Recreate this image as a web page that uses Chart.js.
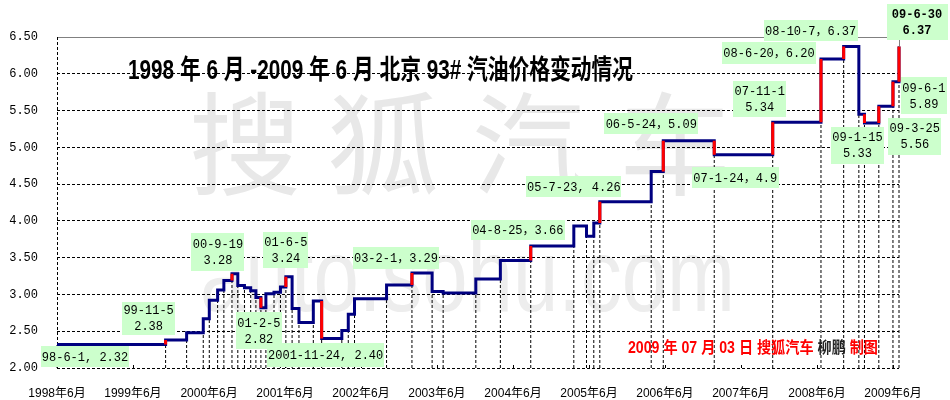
<!DOCTYPE html>
<html>
<head>
<meta charset="utf-8">
<script src="https://cdn.jsdelivr.net/npm/chart.js"></script>
<style>
  body { margin: 0; background: #fff; }
  #wrap { width: 950px; height: 400px; }
</style>
</head>
<body>
<div id="wrap"><canvas id="myChart" width="950" height="400"></canvas></div>
<script>
// price change dates and the 93# price from that day on (yuan / litre)
const changeDates = [
  '1998-06-01', '1999-11-05', '2000-02-14', '2000-05-04', '2000-06-02', '2000-07-12', '2000-08-11', '2000-09-19',
  '2000-10-17', '2000-11-18', '2000-12-18', '2001-01-12', '2001-02-05', '2001-03-01', '2001-04-09', '2001-05-10',
  '2001-06-05', '2001-07-05', '2001-08-07', '2001-10-15', '2001-11-24', '2002-03-01', '2002-04-01', '2002-05-01',
  '2002-10-02', '2003-02-01', '2003-05-09', '2003-07-01', '2003-12-05', '2004-04-01', '2004-08-25', '2005-03-20',
  '2005-05-20', '2005-06-24', '2005-07-23', '2006-03-27', '2006-05-24', '2007-01-24', '2007-11-01', '2008-06-20',
  '2008-10-07', '2008-12-19', '2009-01-15', '2009-03-25', '2009-06-01', '2009-06-30'
];
const prices = [
  2.32, 2.38, 2.48, 2.67, 2.92, 3.06, 3.19, 3.28,
  3.12, 3.09, 3.05, 2.96, 2.82, 3.01, 3.03, 3.10,
  3.24, 2.81, 2.62, 2.91, 2.40, 2.51, 2.73, 2.94,
  3.13, 3.29, 3.04, 3.02, 3.21, 3.46, 3.66, 3.93,
  3.79, 3.97, 4.26, 4.67, 5.09, 4.90, 5.34, 6.20,
  6.37, 5.45, 5.33, 5.56, 5.89, 6.37
];

// labelled changes (index into changeDates) and their note text
const noteIndex = [0, 1, 7, 12, 16, 20, 25, 30, 34, 36, 37, 38, 39, 40, 42, 43, 44, 45];
const noteText = [
  '98-6-1, 2.32', '99-11-5\n2.38', '00-9-19\n3.28', '01-2-5\n2.82', '01-6-5\n3.24',
  '2001-11-24, 2.40', '03-2-1，3.29', '04-8-25，3.66', '05-7-23, 4.26', '06-5-24，5.09',
  '07-1-24，4.9', '07-11-1\n5.34', '08-6-20，6.20', '08-10-7，6.37', '09-1-15\n5.33',
  '09-3-25\n5.56', '09-6-1\n5.89', '09-6-30\n6.37'
];

const tickDates = ['1998-06-01', '1999-06-01', '2000-06-01', '2001-06-01', '2002-06-01', '2003-06-01',
  '2004-06-01', '2005-06-01', '2006-06-01', '2007-06-01', '2008-06-01', '2009-06-01'];
const tickLabels = ['1998年6月', '1999年6月', '2000年6月', '2001年6月', '2002年6月', '2003年6月',
  '2004年6月', '2005年6月', '2006年6月', '2007年6月', '2008年6月', '2009年6月'];

const titleText = '1998 年 6 月 -2009 年 6 月 北京 93# 汽油价格变动情况';

// note boxes: offset of box centre from its point, box width, height (layout only)
const noteLayout = [
  [28, 12, 88, 21], [-17, -22, 53, 33], [-14, -22, 53, 38], [-2, 23, 46, 37], [0, -27, 45, 36],
  [4, 16, 117, 24], [-16, -15, 86, 22], [-13, -16, 94, 20], [-26, -15, 95, 21], [-12, -17, 94, 21],
  [21, 23, 87, 21], [-13, -23, 53, 36], [-52, -6, 94, 22], [-33, -16, 94, 21], [-7, 22, 53, 37],
  [36, 30, 53, 37], [31, 14, 46, 37], [18, -25, 61, 36]
];

const origin = Date.UTC(1998, 5, 1);
function toDay(s) {
  const p = s.split('-');
  return (Date.UTC(+p[0], +p[1] - 1, +p[2]) - origin) / 86400000;
}

const yMin = 2.0, yMax = 6.5;

const stepData = changeDates.map((d, i) => ({ x: toDay(d), y: prices[i] }));

const redData = [];
noteIndex.forEach(i => {
  if (i === 0) return;
  const x = toDay(changeDates[i]);
  redData.push({ x: x, y: prices[i - 1] }, { x: x, y: prices[i] }, { x: x, y: null });
});

const dropData = [];
changeDates.forEach((d, i) => {
  const x = toDay(d);
  dropData.push({ x: x, y: yMin }, { x: x, y: prices[i] }, { x: x, y: null });
});

const monoFont = '"Liberation Mono", "Noto Sans CJK SC", monospace';

function fitText(ctx, runs, font, left, y, width) {
  ctx.save();
  ctx.font = font;
  ctx.textAlign = 'left';
  ctx.textBaseline = 'middle';
  let total = 0;
  runs.forEach(r => { total += ctx.measureText(r.t).width; });
  ctx.translate(left, y);
  ctx.scale(width / total, 1);
  let x = 0;
  runs.forEach(r => {
    ctx.fillStyle = r.c;
    ctx.fillText(r.t, x, 0);
    x += ctx.measureText(r.t).width;
  });
  ctx.restore();
}

const decorPlugin = {
  id: 'decor',
  beforeDraw(chart) {
    const ctx = chart.ctx;
    ctx.save();
    // watermark
    ctx.fillStyle = '#e8e8e8';
    ctx.font = '112px "Noto Sans CJK SC"';
    ctx.textAlign = 'center';
    ctx.textBaseline = 'middle';
    [['搜', 245], ['狐', 383], ['汽', 528], ['车', 675]].forEach(c => ctx.fillText(c[0], c[1], 144));
    ctx.restore();
    ctx.save();
    ctx.fillStyle = '#ededed';
    ctx.font = '104px "Liberation Sans"';
    const w = ctx.measureText('auto.sohu.com').width;
    ctx.translate(200, 311);
    ctx.scale(535 / w, 1);
    ctx.textBaseline = 'alphabetic';
    ctx.fillText('auto.sohu.com', 0, 0);
    ctx.restore();
  },
  beforeDatasetsDraw(chart) {
    const ctx = chart.ctx;
    const a = chart.chartArea;
    const xs = chart.scales.x, ys = chart.scales.y;
    ctx.save();
    // top line
    ctx.strokeStyle = '#808080';
    ctx.lineWidth = 1;
    const top = Math.round(ys.getPixelForValue(yMax)) + 0.5;
    ctx.beginPath();
    ctx.moveTo(a.left, top);
    ctx.lineTo(a.right, top);
    ctx.stroke();
    // left axis, dashed
    ctx.strokeStyle = '#000';
    ctx.setLineDash([3, 2]);
    const lx = Math.round(a.left) + 0.5;
    ctx.beginPath();
    ctx.moveTo(lx, a.top);
    ctx.lineTo(lx, a.bottom);
    ctx.stroke();
    ctx.setLineDash([]);
    // little year ticks
    xs.ticks.forEach(t => {
      const x = Math.round(xs.getPixelForValue(t.value)) + 0.5;
      ctx.beginPath();
      ctx.moveTo(x, a.bottom);
      ctx.lineTo(x, a.bottom - 3);
      ctx.stroke();
    });
    ctx.restore();
  },
  afterDatasetsDraw(chart) {
    const ctx = chart.ctx;
    const font = 'bold 16px "Liberation Sans", "Noto Sans CJK SC"';
    fitText(ctx, [
      { t: '2009 年 07 月 03 日 搜狐汽车 ', c: '#ff0000' },
      { t: '柳鹏', c: '#222222' },
      { t: ' 制图', c: '#ff0000' }
    ], font, 628, 349, 250);
    fitText(ctx, [{ t: titleText, c: '#000000' }],
      'bold 27px "Liberation Sans", "Noto Sans CJK SC"', 128, 72, 505);
  },
  afterDraw(chart) {
    const ctx = chart.ctx;
    const xs = chart.scales.x, ys = chart.scales.y;
    noteIndex.forEach((idx, n) => {
      const px = xs.getPixelForValue(toDay(changeDates[idx]));
      const py = ys.getPixelForValue(prices[idx]);
      const [dx, dy, w, h] = noteLayout[n];
      const cx = px + dx, cy = py + dy;
      const last = n === noteIndex.length - 1;
      ctx.save();
      if (last) {
        ctx.strokeStyle = '#808080';
        ctx.lineWidth = 1;
        ctx.beginPath();
        ctx.moveTo(Math.round(px) + 0.5, cy + h / 2);
        ctx.lineTo(Math.round(px) + 0.5, py);
        ctx.stroke();
      }
      ctx.fillStyle = '#ccffcc';
      ctx.fillRect(Math.round(cx - w / 2), Math.round(cy - h / 2), w, h);
      ctx.fillStyle = '#000';
      ctx.font = (last ? 'bold ' : '') + '12px ' + monoFont;
      ctx.textAlign = 'center';
      ctx.textBaseline = 'middle';
      const lines = noteText[n].split('\n');
      if (lines.length === 1) {
        ctx.fillText(lines[0], cx, cy + 1);
      } else {
        ctx.fillText(lines[0], cx, cy - 7);
        ctx.fillText(lines[1], cx, cy + 9);
      }
      ctx.restore();
    });
  }
};

const config = {
  type: 'line',
  data: {
    datasets: [
      {
        label: 'red',
        data: redData,
        borderColor: '#ff0000',
        borderWidth: 3,
        pointRadius: 0,
        spanGaps: false,
        clip: false,
        order: 0
      },
      {
        label: 'price',
        data: stepData,
        borderColor: '#000080',
        borderWidth: 3,
        borderJoinStyle: 'miter',
        stepped: 'before',
        pointRadius: 0,
        clip: false,
        order: 1
      },
      {
        label: 'drop',
        data: dropData,
        borderColor: '#000000',
        borderWidth: 1,
        borderDash: [3, 2],
        pointRadius: 0,
        spanGaps: false,
        clip: false,
        order: 2
      }
    ]
  },
  options: {
    responsive: false,
    animation: false,
    layout: { padding: { top: 37, right: 51, left: 0, bottom: 0 } },
    plugins: {
      legend: { display: false },
      tooltip: { enabled: false }
    },
    scales: {
      x: {
        type: 'linear',
        min: 0,
        max: toDay('2009-06-30'),
        afterBuildTicks: ax => { ax.ticks = tickDates.map(d => ({ value: toDay(d) })); },
        afterFit: s => { s.height = 32; },
        ticks: {
          autoSkip: false,
          maxRotation: 0,
          padding: 10,
          color: '#000',
          font: { family: '"Liberation Sans", "Noto Sans CJK SC"', size: 12 },
          callback: (v, i) => tickLabels[i]
        },
        grid: { display: false },
        border: { display: false }
      },
      y: {
        min: yMin,
        max: yMax,
        afterFit: s => { s.width = 57; },
        ticks: {
          stepSize: 0.5,
          padding: 19,
          color: '#000',
          font: { family: monoFont, size: 12 },
          callback: v => v.toFixed(2)
        },
        grid: {
          drawTicks: false,
          lineWidth: 1,
          color: c => (c.tick && c.tick.value === yMax) ? 'rgba(0,0,0,0)' : '#000'
        },
        border: { display: false, dash: [3, 2] }
      }
    }
  },
  plugins: [decorPlugin]
};

const myChart = new Chart(document.getElementById('myChart'), config);
</script>
</body>
</html>
